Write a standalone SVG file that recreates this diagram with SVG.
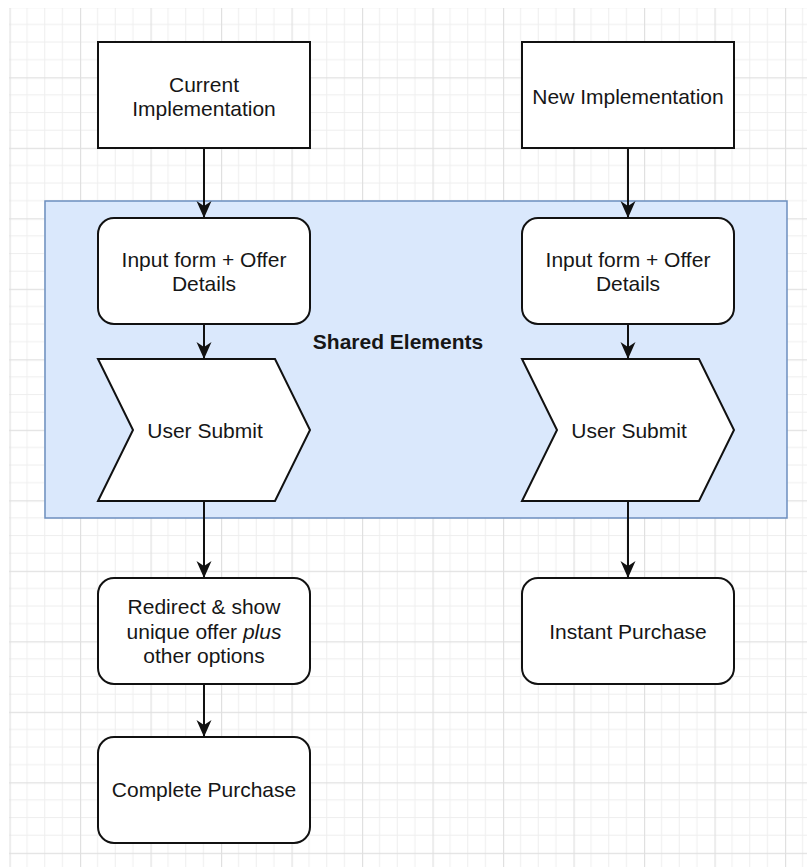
<svg xmlns="http://www.w3.org/2000/svg" width="807" height="867" viewBox="0 0 807 867">
  <defs>
    <style>
      .box { fill: #ffffff; stroke: #111111; stroke-width: 2; }
      .label { font-family: "Liberation Sans", Helvetica, Arial, sans-serif; font-size: 21px; fill: #161616; text-anchor: middle; }
      .title { font-weight: bold; }
      .edge { fill: none; stroke: #111111; stroke-width: 2; }
      .minor { fill: #eeeeee; }
      .major { fill: #e0e0e0; }
    </style>
    <!-- background grid: 4 minor cells per major cell -->
    <pattern id="grid" patternUnits="userSpaceOnUse" x="9.5" y="6.8" width="70.5" height="70.5">
      <rect class="minor" x="17.1" y="0" width="1" height="70.5"/>
      <rect class="minor" x="34.7" y="0" width="1" height="70.5"/>
      <rect class="minor" x="52.4" y="0" width="1" height="70.5"/>
      <rect class="minor" x="0" y="17.1" width="70.5" height="1"/>
      <rect class="minor" x="0" y="34.7" width="70.5" height="1"/>
      <rect class="minor" x="0" y="52.4" width="70.5" height="1"/>
      <rect class="major" x="0" y="0" width="1.2" height="70.5"/>
      <rect class="major" x="0" y="0" width="70.5" height="1.2"/>
    </pattern>
    <marker id="arrow" markerUnits="userSpaceOnUse" viewBox="0 -8 18 16" refX="17" refY="0" markerWidth="18" markerHeight="16" orient="auto">
      <path d="M0,-7.5 L17,0 L0,7.5 L5,0 Z" fill="#111111"/>
    </marker>
  </defs>

  <rect x="0" y="0" width="807" height="867" fill="#ffffff"/>
  <rect x="9" y="8" width="798" height="859" fill="url(#grid)"/>

  <!-- container for the steps both flows have in common -->
  <g id="shared-elements">
    <rect x="45" y="201" width="742" height="317" fill="#dae8fc" stroke="#6c8ebf" stroke-width="1.5"/>
    <text class="label title" x="398" y="349">Shared Elements</text>
  </g>

  <!-- left flow -->
  <g id="current-implementation">
    <rect class="box" x="98" y="42" width="212" height="106"/>
    <text class="label" x="204" y="92">Current</text>
    <text class="label" x="204" y="116">Implementation</text>
  </g>
  <g id="input-form-current">
    <rect class="box" x="98" y="218" width="212" height="106" rx="16" ry="16"/>
    <text class="label" x="204" y="267">Input form + Offer</text>
    <text class="label" x="204" y="291">Details</text>
  </g>
  <g id="user-submit-current">
    <path class="box" d="M98,359 L275,359 L310,430 L275,501 L98,501 L133,430 Z"/>
    <text class="label" x="205" y="438">User Submit</text>
  </g>
  <g id="redirect">
    <rect class="box" x="98" y="578" width="212" height="106" rx="16" ry="16"/>
    <text class="label" x="204" y="614">Redirect &amp; show</text>
    <text class="label" x="204" y="638.5">unique offer <tspan font-style="italic">plus</tspan></text>
    <text class="label" x="204" y="663">other options</text>
  </g>
  <g id="complete-purchase">
    <rect class="box" x="98" y="737" width="212" height="106" rx="16" ry="16"/>
    <text class="label" x="204" y="797">Complete Purchase</text>
  </g>

  <!-- right flow -->
  <g id="new-implementation">
    <rect class="box" x="522" y="42" width="212" height="106"/>
    <text class="label" x="628" y="104">New Implementation</text>
  </g>
  <g id="input-form-new">
    <rect class="box" x="522" y="218" width="212" height="106" rx="16" ry="16"/>
    <text class="label" x="628" y="267">Input form + Offer</text>
    <text class="label" x="628" y="291">Details</text>
  </g>
  <g id="user-submit-new">
    <path class="box" d="M522,359 L699,359 L734,430 L699,501 L522,501 L557,430 Z"/>
    <text class="label" x="629" y="438">User Submit</text>
  </g>
  <g id="instant-purchase">
    <rect class="box" x="522" y="578" width="212" height="106" rx="16" ry="16"/>
    <text class="label" x="628" y="639">Instant Purchase</text>
  </g>

  <!-- connectors -->
  <g id="connectors">
    <path class="edge" d="M204,148 L204,218" marker-end="url(#arrow)"/>
    <path class="edge" d="M204,324 L204,359" marker-end="url(#arrow)"/>
    <path class="edge" d="M204,501 L204,578" marker-end="url(#arrow)"/>
    <path class="edge" d="M204,684 L204,737" marker-end="url(#arrow)"/>
    <path class="edge" d="M628,148 L628,218" marker-end="url(#arrow)"/>
    <path class="edge" d="M628,324 L628,359" marker-end="url(#arrow)"/>
    <path class="edge" d="M628,501 L628,578" marker-end="url(#arrow)"/>
  </g>
</svg>
